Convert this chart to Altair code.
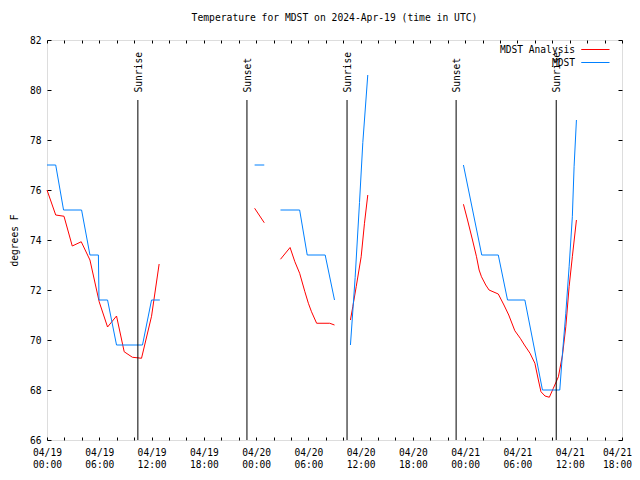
import altair as alt
import pandas as pd

# ---- data (hours since 2024-04-19 00:00 UTC) ----
ana_hours = [0, 1.0, 1.95, 2.9, 3.93, 4.93, 5.99, 6.95, 7.98, 8.86, 9.8, 10.85, 12.0, 12.87,
             23.83, 24.94,
             26.8, 27.9, 28.45, 29.0, 29.6, 30.0, 30.36, 30.95, 32.45, 33.0,
             34.83, 35.1, 35.49, 36.06, 36.44, 36.82,
             47.8, 48.27, 48.84, 49.3, 49.6, 49.87, 50.36, 50.74, 51.8, 52.45, 53.0, 53.7,
             54.32, 54.8, 55.44, 56.0, 56.4, 56.7, 57.16, 57.66, 58.12, 58.7, 59.17, 59.55,
             59.93, 60.3, 60.77]
ana_temps = [76.0, 75.0, 74.95, 73.76, 73.93, 73.2, 71.53, 70.52, 70.96, 69.53, 69.31, 69.27, 70.95, 73.04,
             75.27, 74.69,
             73.23, 73.7, 73.13, 72.67, 71.93, 71.47, 71.13, 70.67, 70.67, 70.6,
             70.8, 71.33, 72.13, 73.33, 74.67, 75.8,
             75.43, 74.8, 74.0, 73.33, 72.8, 72.53, 72.2, 72.0, 71.84, 71.4, 71.0, 70.37,
             70.07, 69.8, 69.47, 69.07, 68.4, 67.93, 67.76, 67.71, 68.07, 68.53, 69.4, 70.53,
             72.13, 73.33, 74.8]
ana_segs = [1] * 14 + [2] * 2 + [3] * 10 + [4] * 6 + [5] * 27

obs_hours = [0, 1.0, 1.9, 3.97, 4.93, 5.9, 5.97, 6.95, 7.98, 10.96, 12.0, 12.95,
             23.83, 24.94,
             26.8, 29.0, 29.87, 31.93, 33.0,
             34.83, 35.37, 35.87, 36.25, 36.82,
             47.8, 49.9, 51.8, 52.86, 54.85, 56.87, 58.86, 59.17, 59.55, 59.93, 60.3, 60.5, 60.77]
obs_temps = [77.0, 77.0, 75.2, 75.2, 73.4, 73.4, 71.6, 71.6, 69.8, 69.8, 71.6, 71.6,
             77.0, 77.0,
             75.2, 75.2, 73.4, 73.4, 71.6,
             69.8, 72.5, 75.5, 77.9, 80.6,
             77.0, 73.4, 73.4, 71.6, 71.6, 68.0, 68.0, 69.47, 71.07, 72.93, 74.93, 76.93, 78.8]
obs_segs = [1] * 12 + [2] * 2 + [3] * 5 + [4] * 5 + [5] * 13

sun_hours = [10.43, 22.95, 34.44, 46.96, 58.45]
sun_labels = ["Sunrise", "Sunset", "Sunrise", "Sunset", "Sunrise"]

series_names = ["MDST Analysis", "MDST"]
series_colors = ["#ff0000", "#0080ff"]

x_tick_hours = [0, 6, 12, 18, 24, 30, 36, 42, 48, 54, 60, 66]
x_tick_dates = ["04/19", "04/19", "04/19", "04/19", "04/20", "04/20", "04/20", "04/20",
                "04/21", "04/21", "04/21", "04/21"]
x_tick_times = ["00:00", "06:00", "12:00", "18:00", "00:00", "06:00", "12:00", "18:00",
                "00:00", "06:00", "12:00", "18:00"]
x_minor_ticks = list(range(0, 67, 2))
y_ticks = [66, 68, 70, 72, 74, 76, 78, 80, 82]

X_DOMAIN = [0, 66]
Y_DOMAIN = [66, 82]
FONT = "DejaVu Sans Mono"
W, H = 575, 400

# ---- tables ----
lines_df = pd.concat([
    pd.DataFrame({"hour": ana_hours, "temp": ana_temps, "seg": ana_segs, "series": series_names[0]}),
    pd.DataFrame({"hour": obs_hours, "temp": obs_temps, "seg": obs_segs, "series": series_names[1]}),
])
sun_df = pd.DataFrame({"hour": sun_hours, "label": sun_labels})

pairs = ",".join("['%s','%s']" % (d, t) for d, t in zip(x_tick_dates, x_tick_times))
label_expr = "[" + pairs + "][round(datum.value/6)]"

xs = alt.Scale(domain=X_DOMAIN, nice=False, zero=False)
ys = alt.Scale(domain=Y_DOMAIN, nice=False, zero=False)

# axis A (bottom labels) and D (left labels)
axA = alt.Axis(orient="bottom", values=x_tick_hours, labelExpr=label_expr, ticks=False, tickSize=0,
               domain=False, grid=False, title=None, labelFont=FONT, labelFontSize=9.6,
               labelColor="black", labelPadding=7, labelLineHeight=12, labelBaseline="top",
               labelFlush=False, labelOverlap=False,
               labelOffset={"condition": {"test": "datum.value >= 66", "value": -5}, "value": 0})
axD = alt.Axis(orient="left", values=y_ticks, ticks=False, tickSize=0, domain=False, grid=False,
               title="degrees F", titleFont=FONT, titleFontSize=9.6, titleFontWeight="normal",
               titleColor="black", titleX=-33, titleY=H / 2, titleAngle=270, titleBaseline="middle",
               titleAlign="center", labelFont=FONT, labelFontSize=9.6, labelColor="black",
               labelPadding=6, labelFlush=False, labelOverlap=False)

# legend: gnuplot style, the line sample is drawn to the right of the right-aligned label
# (custom symbol path in unit coords; nominal symbol width 10 px -> 5 px per unit)
lines = alt.Chart(lines_df).mark_line(strokeWidth=1).encode(
    x=alt.X("hour:Q", scale=xs, axis=axA),
    y=alt.Y("temp:Q", scale=ys, axis=axD),
    color=alt.Color("series:N",
                    scale=alt.Scale(domain=series_names, range=series_colors),
                    legend=alt.Legend(orient="none", legendX=517, legendY=4, title=None,
                                      symbolType="M 2.35 0 L 8 0", symbolSize=100,
                                      symbolStrokeWidth=1, symbolOffset=0,
                                      labelAlign="right", labelOffset=0,
                                      labelFont=FONT, labelFontSize=9.6, labelColor="black",
                                      labelBaseline="middle", rowPadding=2, padding=0)),
    detail="seg:N",
)

# inward ticks: bottom (top-oriented axis moved down), left (right-oriented axis moved left)
axB = alt.Axis(orient="top", offset=-H, values=x_minor_ticks, labels=False, domain=False, grid=False,
               ticks=True, tickSize=3, tickColor="black", title=None)
axE = alt.Axis(orient="right", offset=-W, values=y_ticks, labels=False, domain=False, grid=False,
               ticks=True, tickSize=4, tickColor="black", title=None)
rules = alt.Chart(sun_df).mark_rule(color="black", strokeWidth=1).encode(
    x=alt.X("hour:Q", scale=xs, axis=axB),
    y=alt.YDatum(66, type="quantitative", scale=ys, axis=axE),
    y2=alt.datum(79.6),
)

# inward ticks: top and right
axC = alt.Axis(orient="bottom", offset=-H, values=x_minor_ticks, labels=False, domain=False, grid=False,
               ticks=True, tickSize=3, tickColor="black", title=None)
axF = alt.Axis(orient="left", offset=-W, values=y_ticks, labels=False, domain=False, grid=False,
               ticks=True, tickSize=4, tickColor="black", title=None)
texts = alt.Chart(sun_df).mark_text(angle=270, align="left", baseline="middle", font=FONT,
                                    fontSize=9.6, color="black", dy=1).encode(
    x=alt.X("hour:Q", scale=xs, axis=axC),
    y=alt.YDatum(79.9, type="quantitative", scale=ys, axis=axF),
    text="label:N",
)

chart = alt.layer(lines, rules, texts).resolve_axis(x="independent", y="independent").properties(
    width=W, height=H,
    title=alt.TitleParams("Temperature for MDST on 2024-Apr-19 (time in UTC)", font=FONT, fontSize=9.7,
                          fontWeight="normal", color="black", anchor="middle", offset=12),
    autosize=alt.AutoSizeParams(type="none"),
    padding={"left": 39, "top": 32, "right": 10, "bottom": 30},
).configure_view(stroke="black", strokeWidth=1).configure(background="white")

chart.save("out.html", embed_options={"renderer": "svg", "actions": False})
